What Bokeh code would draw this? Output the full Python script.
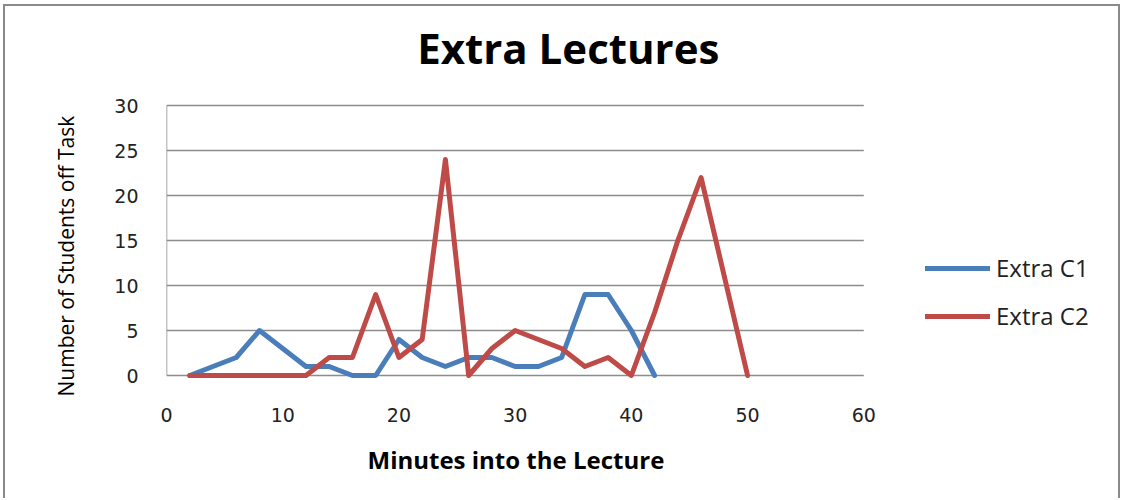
from bokeh.plotting import figure
from bokeh.models import Range1d, Legend, LegendItem, SingleIntervalTicker, Label, Title
from bokeh.embed import file_html
from bokeh.resources import INLINE

# ---- data ----
c1_minutes = [2, 4, 6, 8, 10, 12, 14, 16, 18, 20, 22, 24, 26, 28, 30, 32, 34, 36, 38, 40, 42]
c1_students = [0, 1, 2, 5, 3, 1, 1, 0, 0, 4, 2, 1, 2, 2, 1, 1, 2, 9, 9, 5, 0]
c2_minutes = [2, 4, 6, 8, 10, 12, 14, 16, 18, 20, 22, 24, 26, 28, 30, 32, 34, 36, 38, 40, 42, 44, 46, 48, 50]
c2_students = [0, 0, 0, 0, 0, 0, 2, 2, 9, 2, 4, 24, 0, 3, 5, 4, 3, 1, 2, 0, 7, 15, 22, 11, 0]
series_names = ["Extra C1", "Extra C2"]
title_text = "Extra Lectures"
x_label = "Minutes into the Lecture"
y_label = "Number of Students off Task"
x_axis_max = 60
x_tick_step = 10
y_axis_max = 30
y_tick_step = 5

BLUE = "#4A7EBB"
RED = "#BE4B48"
GRID = "#8c8c8c"
FONT = "Open Sans"

# The frame is enlarged (above and right of the axes) so the title and legend can live inside it.
p = figure(width=1117, height=494, output_backend="svg", toolbar_location=None,
           x_range=Range1d(0, 81.4), y_range=Range1d(-0.333, 40.556),
           min_border_left=161, min_border_right=10, min_border_top=4, min_border_bottom=122)
p.styles = {"border": "2px solid #8a8a8a", "border-bottom": "none",
            "margin-left": "3px", "margin-top": "4px"}
p.outline_line_color = None
p.background_fill_color = "white"
p.border_fill_color = "white"
p.xgrid.grid_line_color = None
p.ygrid.grid_line_color = None

# gridlines / axis rules over the axis extent only
grid_vals = list(range(0, y_axis_max + 1, y_tick_step))
p.segment(x0=[0] * len(grid_vals), x1=[x_axis_max] * len(grid_vals), y0=grid_vals, y1=grid_vals,
          line_color=GRID, line_width=1.5)
p.segment(x0=[0], x1=[0], y0=[0], y1=[y_axis_max], line_color=GRID, line_width=1.5)

r1 = p.line(c1_minutes, c1_students, line_color=BLUE, line_width=5, line_join="round", line_cap="round")
r2 = p.line(c2_minutes, c2_students, line_color=RED, line_width=5, line_join="round", line_cap="round")

p.add_layout(Label(x=34.57, y=36.45, text=title_text, text_align="center", text_baseline="middle",
                   text_font=FONT, text_font_style="bold", text_font_size="42px",
                   text_color="black"))

xax = p.xaxis[0]
yax = p.yaxis[0]
xax.ticker = SingleIntervalTicker(interval=x_tick_step)
yax.ticker = SingleIntervalTicker(interval=y_tick_step)
xax.bounds = (0, x_axis_max)
yax.bounds = (0, y_axis_max)

for ax in (xax, yax):
    ax.axis_line_color = None
    ax.major_tick_out = 0
    ax.major_tick_in = 0
    ax.minor_tick_out = 0
    ax.minor_tick_in = 0
    ax.major_label_text_font = "DejaVu Sans"
    ax.major_label_text_font_size = "19px"
    ax.major_label_text_color = "#222222"

xax.major_label_standoff = 29
yax.major_label_standoff = 28

p.add_layout(Title(text=x_label, align="left", offset=201, vertical_align="top", standoff=36,
                   text_font=FONT, text_font_size="24px", text_font_style="bold",
                   text_color="black"), "below")
p.add_layout(Title(text=y_label, align="left", offset=-18, vertical_align="bottom", standoff=64,
                   text_font=FONT, text_font_size="21px", text_font_style="normal",
                   text_color="black"), "left")

legend = Legend(items=[LegendItem(label=series_names[0], renderers=[r1]),
                       LegendItem(label=series_names[1], renderers=[r2])],
                location=(759, 46))
legend.border_line_color = None
legend.background_fill_alpha = 0
legend.padding = 0
legend.margin = 0
legend.glyph_width = 65
legend.glyph_height = 20
legend.label_height = 20
legend.spacing = 15
legend.label_standoff = 6
legend.label_text_font = FONT
legend.label_text_font_size = "24px"
legend.label_text_color = "#222222"
p.add_layout(legend, "center")

open("out.html", "w").write(file_html(p, INLINE))
